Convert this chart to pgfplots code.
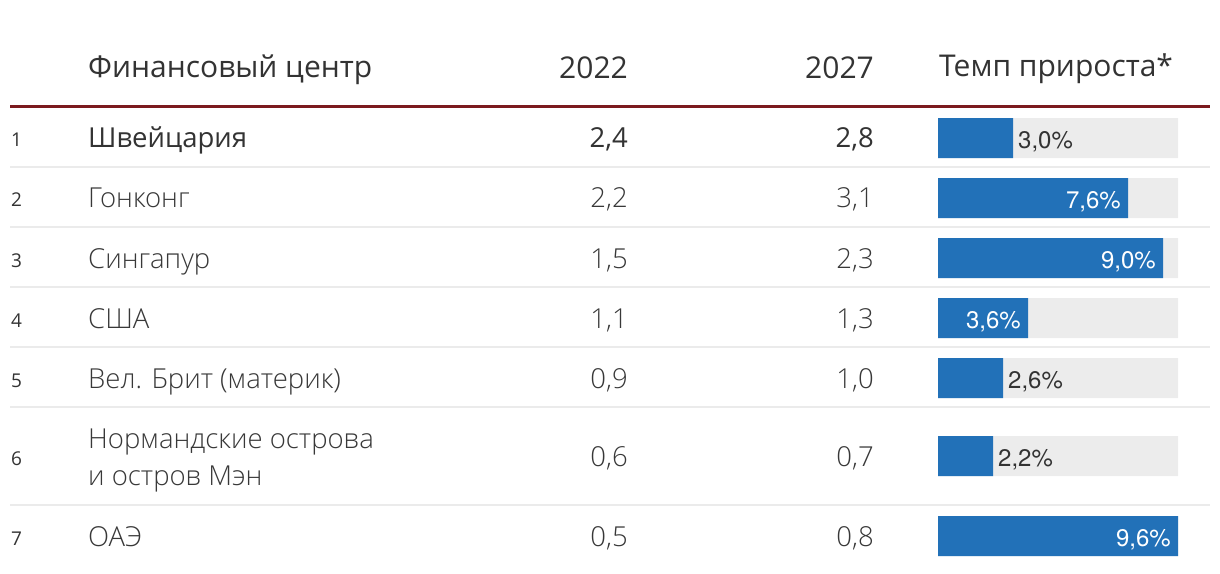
\documentclass[border=0pt]{standalone}
\usepackage{fontspec}
\setmainfont{Open Sans}
\newfontfamily\lightfont{Open Sans Light}
\newfontfamily\labfont{TeX Gyre Heros}
\usepackage{pgfplots}
\usepackage{pgfplotstable}
\pgfplotsset{compat=1.18}
\definecolor{txt}{HTML}{333333}
\definecolor{lighttxt}{HTML}{383838}
\definecolor{rulec}{HTML}{7B1A1E}
\definecolor{sep}{HTML}{EBEBEB}
\definecolor{barbg}{HTML}{ECECEC}
\definecolor{barblue}{HTML}{2271B8}

\pgfplotstableread{
rank y v22 v27 g
1 138 2.4 2.8 3.0
2 198 2.2 3.1 7.6
3 258 1.5 2.3 9.0
4 318 1.1 1.3 3.6
5 378 0.9 1.0 2.6
6 456 0.6 0.7 2.2
7 536 0.5 0.8 9.6
}\datatable

\begin{document}
\begin{tikzpicture}
\path[use as bounding box] (0,0) rectangle (1220bp,574bp);
\begin{axis}[name=main, at={(0,0)}, anchor=south west, scale only axis,
  width=1220bp, height=574bp, xmin=0, xmax=1220, ymin=0, ymax=574,
  y dir=reverse, hide axis, clip=false,
  /pgf/number format/.cd, use comma, fixed, fixed zerofill, precision=1, assume math mode=true]
  % rules
  \draw[rulec, line width=3bp] (axis cs:10,107) -- (axis cs:1210,107);
  \pgfplotsinvokeforeach{167,227,287,347,407,505}{
    \draw[sep, line width=2bp] (axis cs:10,#1) -- (axis cs:1210,#1);
  }
  % header
  \begin{scope}[every node/.style={inner sep=0pt, text=txt, font=\fontsize{30bp}{34bp}\selectfont}]
  \node[anchor=base west] at (axis cs:88,78) {Финансовый центр};
  \node[anchor=base east] at (axis cs:628,79) {2022};
  \node[anchor=base east] at (axis cs:874,79) {2027};
  \node[anchor=base west] at (axis cs:939,77) {Темп прироста*};
  \end{scope}
  % names
  \node[inner sep=0pt, anchor=base west, text=txt, font=\fontsize{27.5bp}{31bp}\selectfont] at (axis cs:88,148) {Швейцария};
  \begin{scope}[every node/.style={inner sep=0pt, anchor=base west, text=lighttxt, font=\lightfont\fontsize{27.5bp}{31bp}\selectfont}]
  \node at (axis cs:88,208) {Гонконг};
  \node at (axis cs:88,268) {Сингапур};
  \node at (axis cs:88,328) {США};
  \node at (axis cs:88,388) {Вел. Брит (материк)};
  \node at (axis cs:88,448) {Нормандские острова};
  \node at (axis cs:88,485) {и остров Мэн};
  \node at (axis cs:88,546) {ОАЭ};
  \end{scope}
  % ranks
  \addplot[draw=none, nodes near coords, point meta=explicit symbolic,
    every node near coord/.append style={anchor=base west, inner sep=0pt, text=txt, font=\fontsize{19bp}{22bp}\selectfont}]
    table[x expr=11, y expr=\thisrow{y}+9, meta=rank]{\datatable};
  % 2022 values
  \addplot[draw=none, nodes near coords, point meta=explicit, skip coords between index={1}{7},
    every node near coord/.append style={anchor=base east, inner sep=0pt, text=txt, font=\fontsize{27.5bp}{31bp}\selectfont}]
    table[x expr=628, y expr=\thisrow{y}+10, meta=v22]{\datatable};
  \addplot[draw=none, nodes near coords, point meta=explicit, skip coords between index={0}{1},
    every node near coord/.append style={anchor=base east, inner sep=0pt, text=lighttxt, font=\lightfont\fontsize{27.5bp}{31bp}\selectfont}]
    table[x expr=628, y expr=\thisrow{y}+10, meta=v22]{\datatable};
  % 2027 values
  \addplot[draw=none, nodes near coords, point meta=explicit, skip coords between index={1}{7},
    every node near coord/.append style={anchor=base east, inner sep=0pt, text=txt, font=\fontsize{27.5bp}{31bp}\selectfont}]
    table[x expr=874, y expr=\thisrow{y}+10, meta=v27]{\datatable};
  \addplot[draw=none, nodes near coords, point meta=explicit, skip coords between index={0}{1},
    every node near coord/.append style={anchor=base east, inner sep=0pt, text=lighttxt, font=\lightfont\fontsize{27.5bp}{31bp}\selectfont}]
    table[x expr=874, y expr=\thisrow{y}+10, meta=v27]{\datatable};
\end{axis}
\begin{axis}[at={(938bp,0)}, anchor=south west, scale only axis,
  width=240bp, height=574bp, xmin=0, xmax=9.6, ymin=0, ymax=574,
  y dir=reverse, hide axis, clip=false,
  /pgf/number format/.cd, use comma, fixed, fixed zerofill, precision=1, assume math mode=true]
  \addplot[xbar, bar width=40bp, fill=barbg, draw=none] table[x expr=9.6, y=y]{\datatable};
  \addplot[xbar, bar width=40bp, fill=barblue, draw=none] table[x=g, y=y]{\datatable};
  % inside labels
  \addplot[draw=none, point meta=x, x filter/.expression={x<3.3 ? nan : x},
    nodes near coords={\pgfmathprintnumber{\pgfplotspointmeta}\%},
    every node near coord/.append style={anchor=base east, inner sep=0pt, xshift=-7bp, text=white, font=\labfont\fontsize{24bp}{28bp}\selectfont}]
    table[x=g, y expr=\thisrow{y}+10]{\datatable};
  % outside labels
  \addplot[draw=none, point meta=x, x filter/.expression={x>3.3 ? nan : x},
    nodes near coords={\pgfmathprintnumber{\pgfplotspointmeta}\%},
    every node near coord/.append style={anchor=base west, inner sep=0pt, xshift=5bp, text=txt, font=\labfont\fontsize{24bp}{28bp}\selectfont}]
    table[x=g, y expr=\thisrow{y}+10]{\datatable};
\end{axis}
\end{tikzpicture}
\end{document}
